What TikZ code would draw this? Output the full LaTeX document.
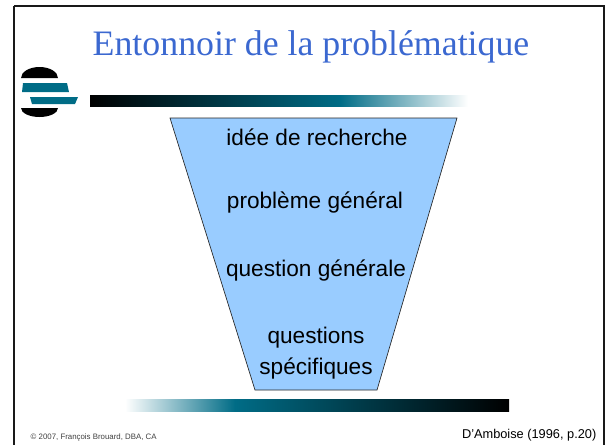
\documentclass[tikz,border=0pt]{standalone}
\usepackage{fontspec}
\setmainfont{Liberation Sans}
\newfontfamily\titlefont{Liberation Serif}
\definecolor{titleblue}{RGB}{59,104,208}
\definecolor{funnelblue}{RGB}{153,204,255}
\definecolor{barteal}{RGB}{0,108,134}
\tikzset{
    funneltext/.style={font=\fontsize{17}{20}\selectfont, align=center, text=black},
    tinytext/.style={font=\fontsize{5.9}{7}\selectfont, text=black!75},
}
\begin{document}
\begin{tikzpicture}[x=0.0264cm, y=-0.0264cm]
        \useasboundingbox (0,0) rectangle (608,444);
        % frame
        \draw[line width=1.6pt, black!90] (14,6) -- (604,6) -- (604,445);
        \draw[line width=1.6pt, black!90] (14,6) -- (14,445);
        \node (title) at (311,47) {\titlefont\color{titleblue}\fontsize{26.9}{30}\selectfont Entonnoir de la problématique};
        % logo
        \fill[black] (21,78) arc[start angle=180, end angle=360, x radius=18.5, y radius=11] -- cycle;
        \fill[black] (21,108) arc[start angle=180, end angle=0, x radius=18.5, y radius=9] -- cycle;
        \fill[barteal] (23,83) -- (67,83) -- (69,92) -- (22,92) -- cycle;
        \fill[barteal] (30,97) -- (78,97) -- (75,104) -- (32,104) -- cycle;
        % top bar
        \begin{scope}
            \fill[left color=black, right color=barteal] (90,95) rectangle (340,106);
            \fill[left color=barteal, right color=white] (340,95) rectangle (468,106);
        \end{scope}
        % bottom bar
        \begin{scope}
            \fill[left color=white, right color=barteal] (125,399) rectangle (235,411);
            \fill[left color=barteal, right color=black] (235,399) rectangle (509,411);
        \end{scope}
        % funnel
        \draw[fill=funnelblue, draw=black!85, line width=0.5pt] (170,118) -- (457,118) -- (377,390) -- (255,390) -- cycle;
        \node[funneltext] (idee) at (317,137) {idée de recherche};
        \node[funneltext] (probleme) at (315,203) {problème général};
        \node[funneltext] (question) at (316,271) {question générale};
        \node[funneltext] (specifiques) at (316,353) {questions\\[3pt]spécifiques};
        % footer
        \node[tinytext, anchor=west] (copyright) at (26,437) {© 2007, François Brouard, DBA, CA};
        \node[font=\fontsize{9.6}{11}\selectfont, anchor=east] (source) at (601,435) {D’Amboise (1996, p.20)};
    \end{tikzpicture}
\end{document}
